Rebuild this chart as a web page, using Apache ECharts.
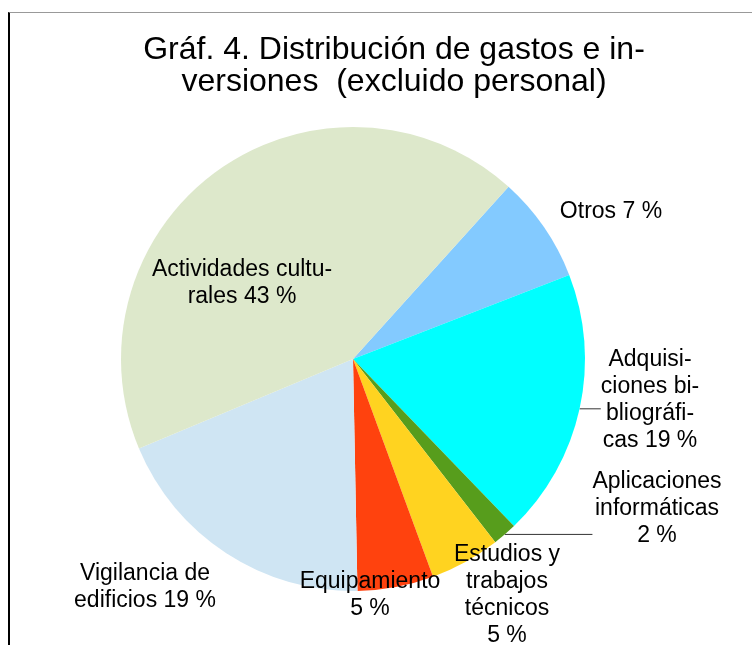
<!DOCTYPE html>
<html>
<head>
<meta charset="utf-8">
<script src="https://cdn.jsdelivr.net/npm/echarts@6/dist/echarts.min.js"></script>
<style>
  html, body { margin: 0; padding: 0; background: #fff; }
  #chart { position: absolute; left: 0; top: 0; width: 752px; height: 645px; }
  #frame { position: absolute; left: 8px; top: 12px; width: 800px; height: 700px;
           border-left: 2px solid #000; border-top: 1px solid #999; pointer-events: none; }
</style>
</head>
<body>
<div id="chart"></div>
<div id="frame"></div>
<script>
// Data (clockwise from the top-right slice)
const categories = ["Otros", "Adquisiciones bibliográficas", "Aplicaciones informáticas",
  "Estudios y trabajos técnicos", "Equipamiento", "Vigilancia de edificios", "Actividades culturales"];
const values = [7.4, 18.7, 1.7, 4.9, 5.3, 19.0, 43.0];
// Label text as printed (with its line breaks / hyphenation); the percent is appended
const labelPrefixes = ["Otros ", "Adquisi-\nciones bi-\nbliográfi-\ncas ", "Aplicaciones\ninformáticas\n",
  "Estudios y\ntrabajos\ntécnicos\n", "Equipamiento\n", "Vigilancia de\nedificios ", "Actividades cultu-\nrales "];

// Styling / layout
const colors = ["#83caff", "#00ffff", "#579d1c", "#ffd320", "#ff420e", "#cfe5f3", "#dde8cb"];
const labelAnchors = [[611, 212], [650, 400], [657, 509], [507, 595], [370, 595], [145, 587], [242, 283]];
const showLeader = [false, true, true, false, false, false, false];

const chart = echarts.init(document.getElementById('chart'), null, { renderer: 'canvas' });
const FONT = '"Liberation Sans", Arial, sans-serif';

chart.setOption({
  animation: false,
  backgroundColor: '#ffffff',
  title: {
    text: 'Gráf. 4. Distribución de gastos e in-\nversiones  (excluido personal)',
    left: 389, top: 29, textAlign: 'center',
    textStyle: { fontFamily: FONT, fontSize: 32, fontWeight: 'normal', color: '#000', lineHeight: 32 }
  },
  series: [{
    type: 'pie',
    center: [353, 359],
    radius: 232,
    startAngle: 47.9,
    clockwise: true,
    avoidLabelOverlap: false,
    itemStyle: { borderWidth: 0 },
    label: {
      show: true,
      position: 'outside',
      fontFamily: FONT, fontSize: 23, lineHeight: 27, color: '#000', align: 'center',
      formatter: p => labelPrefixes[p.dataIndex] + Math.round(p.percent) + ' %'
    },
    labelLine: { show: false, lineStyle: { color: '#333', width: 1 }, length: 5, length2: 5 },
    labelLayout: function (p) {
      const i = p.dataIndex;
      const a = labelAnchors[i];
      const out = { x: a[0], y: a[1], align: 'center', verticalAlign: 'middle' };
      if (showLeader[i] && p.labelLinePoints && p.labelLinePoints.length) {
        const start = p.labelLinePoints[0];
        const leftEdge = a[0] - p.labelRect.width / 2;
        out.labelLinePoints = [[start[0], start[1]], [leftEdge, start[1]]];
      }
      return out;
    },
    emphasis: { disabled: true },
    data: categories.map((c, i) => ({
      name: c, value: values[i],
      itemStyle: { color: colors[i] },
      labelLine: { show: showLeader[i] }
    }))
  }]
});
</script>
</body>
</html>
